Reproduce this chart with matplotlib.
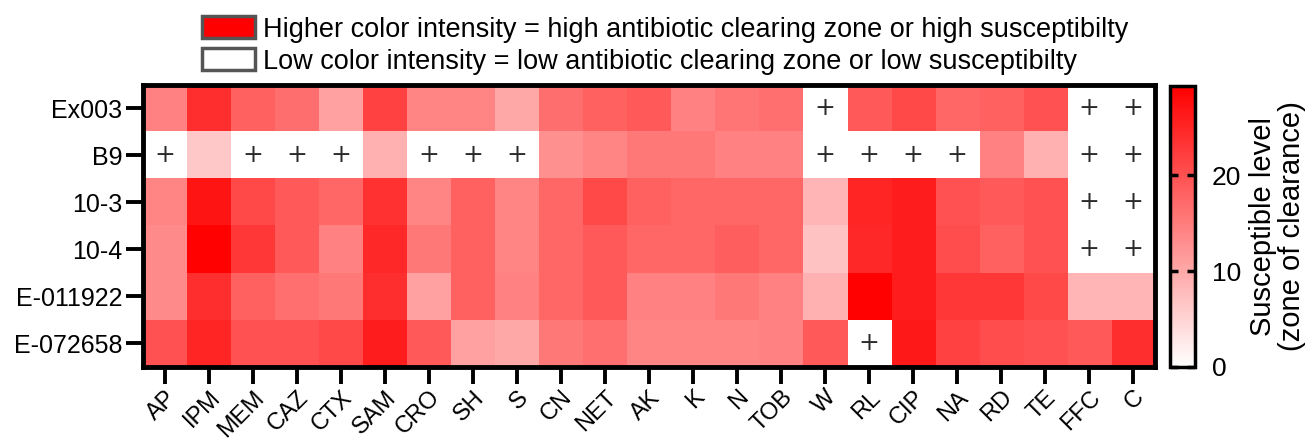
import numpy as np
import matplotlib
matplotlib.use("Agg")
import matplotlib.pyplot as plt
from matplotlib.colors import LinearSegmentedColormap
from matplotlib.patches import Patch

plt.rcParams['font.family'] = ['Liberation Sans', 'DejaVu Sans']

# isolates (rows) and antibiotics (columns)
isolates = ["Ex003", "B9", "10-3", "10-4", "E-011922", "E-072658"]
antibiotics = ["AP", "IPM", "MEM", "CAZ", "CTX", "SAM", "CRO", "SH", "S", "CN", "NET",
               "AK", "K", "N", "TOB", "W", "RL", "CIP", "NA", "RD", "TE", "FFC", "C"]

nan = np.nan
# zone of clearance values; nan = resistant (marked with +)
ex003 = [14.5, 24, 18.3, 16.7, 10.8, 21.7, 14, 14, 10, 16.7, 18, 19, 14.5, 16, 16.5,
         nan, 19, 21, 17.5, 18, 20, nan, nan]
b9 = [nan, 6.3, nan, nan, nan, 9, nan, nan, nan, 12.8, 14, 15.5, 15.5, 14.5, 14.5,
      nan, nan, nan, nan, 14.5, 9, nan, nan]
r10_3 = [14, 27, 21, 19, 17.5, 23.5, 14, 18, 14, 17.5, 21, 18, 17.5, 17.5, 17.5,
         8.5, 25, 26, 20, 19, 20, nan, nan]
r10_4 = [13.5, 29, 23, 19, 14.5, 24.5, 15.5, 18, 14, 17.5, 19, 17.5, 17.5, 18.5, 17.5,
         7, 24.5, 26, 20.5, 18, 20, nan, nan]
e011922 = [13.5, 24, 18, 16.5, 15.5, 24, 10.8, 18, 14.5, 17.5, 19, 14.5, 14.5, 15.5, 14.5,
           9, 29, 26, 23, 23, 21, 8.5, 8.5]
e072658 = [20, 25, 20, 20, 21, 26, 19, 10.8, 10, 15.5, 16.5, 14, 14, 14, 14.5,
           19, nan, 26.5, 21.7, 20.5, 20, 19, 24]

data = np.array([ex003, b9, r10_3, r10_4, e011922, e072658])
cbar_ticks = [0, 10, 20]

cmap = LinearSegmentedColormap.from_list("wr", ["#ffffff", "#ff0000"])
cmap.set_bad("white")

fig = plt.figure(figsize=(13.11, 4.43), dpi=100)
ax = fig.add_axes([0.1091, 0.1716, 0.772, 0.6366])
cax = fig.add_axes([0.8924, 0.1716, 0.0191, 0.634])

im = ax.imshow(np.ma.masked_invalid(data), cmap=cmap, vmin=0, vmax=29.3,
               aspect="auto", interpolation="nearest")

# resistant cells get a "+"
for i in range(data.shape[0]):
    for j in range(data.shape[1]):
        if np.isnan(data[i, j]):
            ax.text(j, i, "+", ha="center", va="center", fontsize=18,
                    color="#2a2a2a", family="DejaVu Sans")

ax.set_xticks(range(len(antibiotics)))
ax.set_xticklabels(antibiotics, rotation=45, ha="right", rotation_mode="anchor",
                   fontsize=17)
ax.set_yticks(range(len(isolates)))
ax.set_yticklabels(isolates, fontsize=18)
ax.tick_params(axis="both", width=2.8, length=12, direction="out", pad=3)
ax.tick_params(axis="x", pad=2)
for s in ax.spines.values():
    s.set_linewidth(3.5)

cb = fig.colorbar(im, cax=cax)
cb.set_ticks(cbar_ticks)
cb.ax.tick_params(labelsize=19, width=2.5, length=6, direction="in",
                  left=True, right=True, pad=12)
cb.outline.set_linewidth(2.5)
cb.set_label("Susceptible level\n(zone of clearance)", fontsize=21, labelpad=6,
             linespacing=1.05)

handles = [Patch(facecolor="#ff0000", edgecolor="#555555", linewidth=2.5),
           Patch(facecolor="white", edgecolor="#555555", linewidth=2.5)]
labels = ["Higher color intensity = high antibiotic clearing zone or high susceptibilty",
          "Low color intensity = low antibiotic clearing zone or low susceptibilty"]
fig.legend(handles, labels, loc="upper left", bbox_to_anchor=(202 / 1311, 1 - 16 / 443),
           frameon=False, fontsize=19.5, handlelength=1.95, handleheight=0.9,
           handletextpad=0.3, labelspacing=0.2, borderaxespad=0, borderpad=0)

fig.savefig("out.png", dpi=100)
